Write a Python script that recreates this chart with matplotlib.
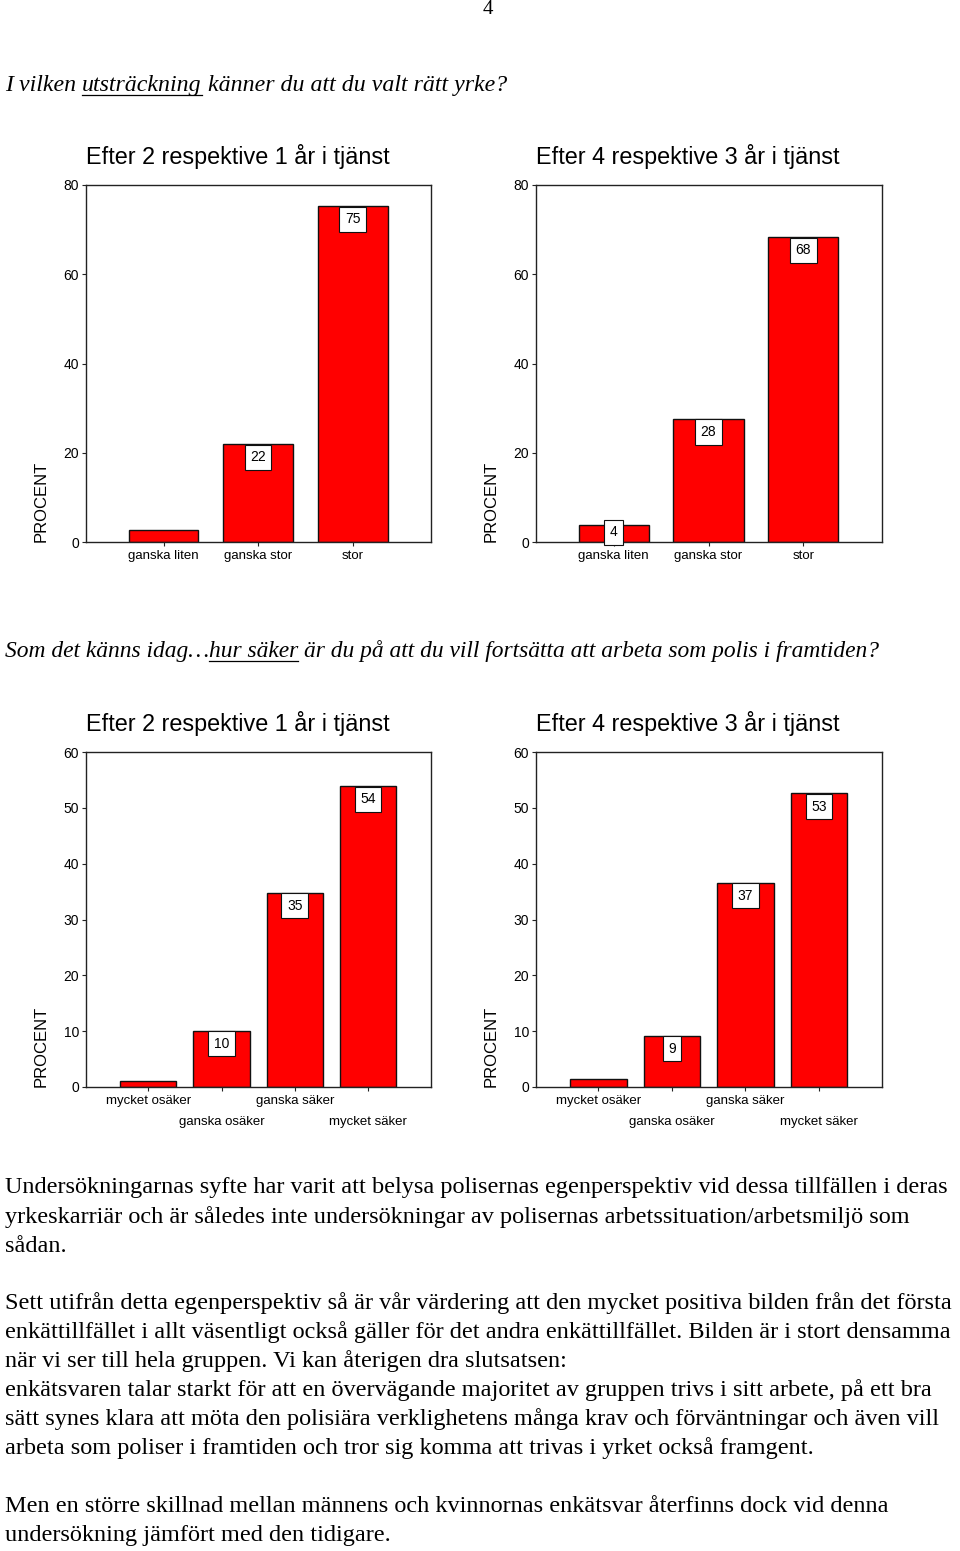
import matplotlib
matplotlib.use('Agg')
import matplotlib.pyplot as plt
from matplotlib.lines import Line2D
from matplotlib.transforms import ScaledTranslation

# data
cat_yrke = ['ganska liten', 'ganska stor', 'stor']
yrke_2_1 = [2.8, 21.9, 75.3]
yrke_4_3 = [3.8, 27.6, 68.3]
yrke_show_2_1 = [False, True, True]
yrke_show_4_3 = [True, True, True]

cat_polis = ['mycket osäker', 'ganska osäker', 'ganska säker', 'mycket säker']
polis_2_1 = [1.0, 10.1, 34.8, 53.9]
polis_4_3 = [1.5, 9.2, 36.6, 52.6]
polis_show = [False, True, True, True]

yrke_ticks = [0, 20, 40, 60, 80]
polis_ticks = [0, 10, 20, 30, 40, 50, 60]

title_a = 'Efter 2 respektive 1 år i tjänst'
title_b = 'Efter 4 respektive 3 år i tjänst'

# (text, underlined, space after)
q1 = [('I vilken', False, True), ('utsträckning', True, True), ('känner du att du valt rätt yrke?', False, False)]
q2 = [('Som det känns idag…', False, False), ('hur säker', True, True),
      ('är du på att du vill fortsätta att arbeta som polis i framtiden?', False, False)]

body = [
    (1188, 'Undersökningarnas syfte har varit att belysa polisernas egenperspektiv vid dessa tillfällen i deras'),
    (1217, 'yrkeskarriär och är således inte undersökningar av polisernas arbetssituation/arbetsmiljö som'),
    (1246, 'sådan.'),
    (1303, 'Sett utifrån detta egenperspektiv så är vår värdering att den mycket positiva bilden från det första'),
    (1332, 'enkättillfället i allt väsentligt också gäller för det andra enkättillfället. Bilden är i stort densamma'),
    (1361, 'när vi ser till hela gruppen. Vi kan återigen dra slutsatsen:'),
    (1390, 'enkätsvaren talar starkt för att en övervägande majoritet av gruppen trivs i sitt arbete, på ett bra'),
    (1419, 'sätt synes klara att möta den polisiära verklighetens många krav och förväntningar och även vill'),
    (1448, 'arbeta som poliser i framtiden och tror sig komma att trivas i yrket också framgent.'),
    (1506, 'Men en större skillnad mellan männens och kvinnornas enkätsvar återfinns dock vid denna'),
    (1535, 'undersökning jämfört med den tidigare.'),
]

W, H = 960, 1551
SANS = 'Liberation Sans'
SERIF = 'Liberation Serif'

fig = plt.figure(figsize=(W / 100, H / 100), dpi=100)
renderer = fig.canvas.get_renderer()


def px(x, y):
    return x / W, 1 - y / H


def bar_chart(rect, cats, vals, show, ticks, title, width, xlim, stagger):
    ax = fig.add_axes(rect)
    x = list(range(len(cats)))
    ax.bar(x, vals, width=width, color='#ff0000', edgecolor='#111111', linewidth=1.0, zorder=2)
    ax.set_xlim(*xlim)
    ax.set_ylim(ticks[0], ticks[-1])
    ax.set_yticks(ticks)
    ax.set_yticklabels([str(t) for t in ticks], fontsize=10, family=SANS)
    ax.set_xticks(x)
    ax.set_xticklabels(cats, fontsize=9.5, family=SANS)
    ax.tick_params(length=3, width=0.8, pad=2, color='#222222')
    ax.tick_params(axis='x', pad=3)
    if stagger:
        shift = ScaledTranslation(0, -0.21, fig.dpi_scale_trans)
        for i, lbl in enumerate(ax.get_xticklabels()):
            if i % 2 == 1:
                lbl.set_transform(lbl.get_transform() + shift)
    for s in ax.spines.values():
        s.set_color('#222222')
        s.set_linewidth(1.0)
    ax.set_title(title, loc='left', fontsize=16.8, family=SANS, pad=15)
    ax.set_ylabel('PROCENT', loc='bottom', fontsize=12, family=SANS)
    ax.yaxis.set_label_coords(-0.107, 0)
    # value boxes
    ppu = rect[3] * H / (ticks[-1] - ticks[0])
    for i, (v, s) in enumerate(zip(vals, show)):
        if not s:
            continue
        if v * ppu > 22:
            xy, off = (i, v), -9.5
        else:
            xy, off = (i, 0), 7
        ax.annotate(f'{v:.0f}', xy=xy, xytext=(0, off), textcoords='offset points',
                    ha='center', va='center', fontsize=10, family=SANS, zorder=3,
                    bbox=dict(boxstyle='square,pad=0.4', fc='white', ec='#111111', lw=0.8))
    return ax


top_h = 357 / H
bot_h = 335 / H
bar_chart([86 / W, 1 - 542 / H, 345 / W, top_h], cat_yrke, yrke_2_1, yrke_show_2_1,
          yrke_ticks, title_a, 0.74, (-0.82, 2.83), False)
bar_chart([536 / W, 1 - 542 / H, 346 / W, top_h], cat_yrke, yrke_4_3, yrke_show_4_3,
          yrke_ticks, title_b, 0.74, (-0.82, 2.83), False)
bar_chart([86 / W, 1 - 1087 / H, 345 / W, bot_h], cat_polis, polis_2_1, polis_show,
          polis_ticks, title_a, 0.77, (-0.85, 3.86), True)
bar_chart([536 / W, 1 - 1087 / H, 346 / W, bot_h], cat_polis, polis_4_3, polis_show,
          polis_ticks, title_b, 0.77, (-0.85, 3.86), True)


def text_width(s, size):
    t = fig.text(0, 0, s, fontsize=size, family=SERIF, style='italic')
    w = t.get_window_extent(renderer).width
    t.remove()
    return w


def parts_line(x0, y_base, parts, size):
    sp = text_width('x x', size) - text_width('xx', size)
    x = x0
    for s, ul, space in parts:
        t = fig.text(*px(x, y_base), s, fontsize=size, family=SERIF, style='italic', va='baseline')
        bb = t.get_window_extent(renderer)
        if ul:
            yy = 1 - (y_base + 4) / H
            fig.add_artist(Line2D([bb.x0 / W, bb.x1 / W], [yy, yy], color='black', lw=0.9))
        x = bb.x1 + (sp if space else 0)


# page number
fig.text(*px(488, 9), '4', fontsize=15, family=SERIF, ha='center', va='center')

parts_line(5, 91, q1, 17.2)
parts_line(5, 657, q2, 16.9)

for y, line in body:
    fig.text(*px(5, y), line, fontsize=17.5, family=SERIF, va='center')

fig.savefig('out.png', dpi=100)
